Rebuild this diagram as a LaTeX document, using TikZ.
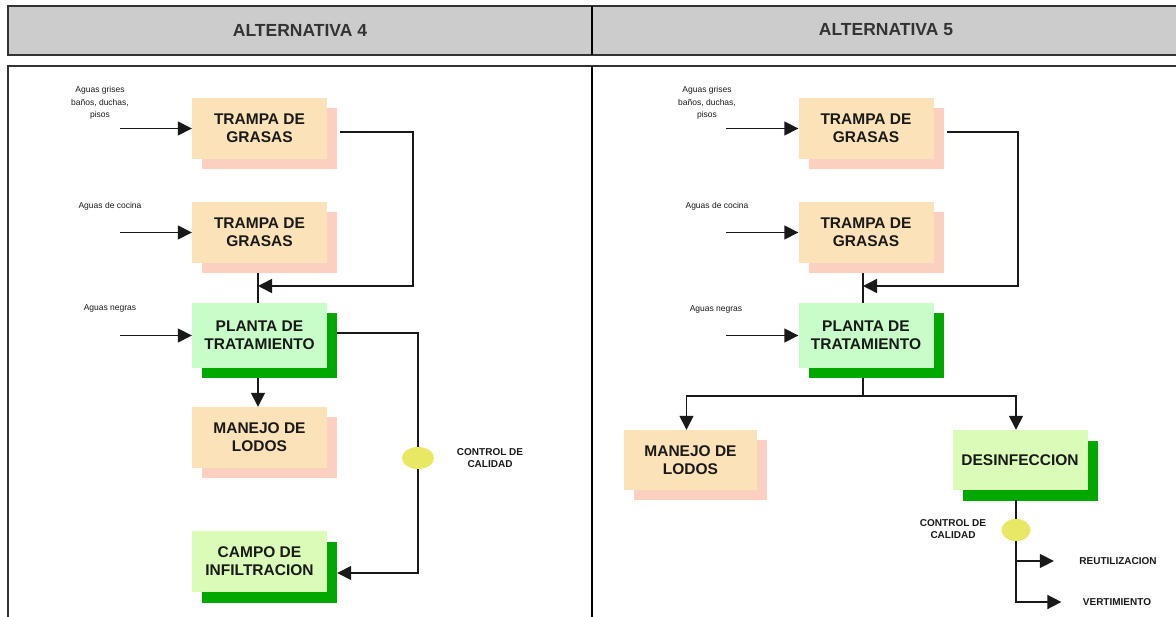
\documentclass[tikz,border=0pt]{standalone}
\usepackage{fontspec}
\setmainfont{Liberation Sans}
\usetikzlibrary{arrows.meta,shadows,shapes.geometric}

\definecolor{hdrgray}{HTML}{CCCCCC}
\definecolor{peach}{HTML}{FCE2B8}
\definecolor{peachshadow}{HTML}{FCD0C0}
\definecolor{mint}{HTML}{C8FCC8}
\definecolor{lime}{HTML}{DAFCB8}
\definecolor{darkgreen}{HTML}{00A800}
\definecolor{qcyellow}{HTML}{E8E864}

\tikzset{
  box/.style={minimum width=135pt, minimum height=61pt, inner sep=0pt, align=center,
    font=\fontsize{15.5}{18}\selectfont\bfseries, text=black!90},
  trap/.style={box, fill=peach,
    drop shadow={shadow xshift=10pt, shadow yshift=-10pt, fill=peachshadow, opacity=1}},
  plant/.style={box, fill=mint,
    drop shadow={shadow xshift=10pt, shadow yshift=-10pt, fill=darkgreen, opacity=1}},
  field/.style={box, fill=lime,
    drop shadow={shadow xshift=10pt, shadow yshift=-11pt, fill=darkgreen, opacity=1}},
  flow/.style={line width=1.5pt, draw=black!90},
  arrowflow/.style={flow, -{Triangle[length=14pt,width=14pt]}},
  note/.style={font=\fontsize{8.5}{12.5}\selectfont, align=center, text=black!90},
  tag/.style={font=\fontsize{10}{12}\selectfont\bfseries, align=center, text=black!90},
  hdr/.style={font=\fontsize{17.5}{18}\selectfont\bfseries, text=black!80},
  qc/.style={ellipse, fill=qcyellow, minimum width=32pt, minimum height=22pt, inner sep=0pt},
}

\begin{document}
\begin{tikzpicture}[x=1pt, y=-1pt]
\useasboundingbox (0,0) rectangle (1176,617);
\clip (0,0) rectangle (1176,617);

% header band and panel frame
\fill[hdrgray] (8,6) rectangle (1180,55);
\draw[line width=2pt, draw=black!80] (1180,6) -- (8,6) -- (8,55) -- (1180,55);
\draw[line width=2.5pt] (592,6) -- (592,55);
\draw[line width=2pt, draw=black!80] (1180,66) -- (8,66) -- (8,620);
\draw[line width=2.5pt] (592,66) -- (592,620);

\node[hdr] (h4) at (300,30) {ALTERNATIVA 4};
\node[hdr] (h5) at (886,30) {ALTERNATIVA 5};

% ---------- left panel ----------
\node[trap] (t1) at (259.5,128.5) {TRAMPA DE\\GRASAS};
\node[trap] (t2) at (259.5,232.5) {TRAMPA DE\\GRASAS};
\node[plant, minimum height=65pt] (p) at (259.5,335.5) {PLANTA DE\\TRATAMIENTO};
\node[trap] (m) at (259.5,437.5) {MANEJO DE\\LODOS};
\node[field] (c) at (259.5,561.5) {CAMPO DE\\INFILTRACION};

\node[note] (a1) at (100,103) {Aguas grises\\baños, duchas,\\pisos};
\node[note] (a2) at (110,206) {Aguas de cocina};
\node[note] (a3) at (110,308) {Aguas negras};

\coordinate (in1) at (120,128.5);
\coordinate (in2) at (120,232.5);
\coordinate (in3) at (120,335.5);
\draw[arrowflow] (in1) -- (t1.west);
\draw[arrowflow] (in2) -- (t2.west);
\draw[arrowflow] (in3) -- (p.west);

\coordinate (lc) at (413,286);
\coordinate (lj) at (258,286);
\draw[arrowflow] ([xshift=13pt,yshift=-3.5pt]t1.east) -| (lc) -- (lj);
\draw[flow] ([xshift=-1.5pt,yshift=-10pt]t2.south) -- ([xshift=-1.5pt]p.north);
\draw[arrowflow] ([xshift=-1.5pt,yshift=-10pt]p.south) -- ([xshift=-1.5pt]m.north);

\node[qc] (qc1) at (418,458) {};
\node[tag] (cq1) at (490,458) {CONTROL DE\\CALIDAD};
\draw[flow] ([xshift=10pt,yshift=2.5pt]p.east) -| (qc1.north);
\draw[arrowflow] (qc1.south) |- ([xshift=10pt,yshift=-11.5pt]c.east);

% ---------- right panel ----------
\node[trap] (rt1) at (866,128.5) {TRAMPA DE\\GRASAS};
\node[trap] (rt2) at (866,232.5) {TRAMPA DE\\GRASAS};
\node[plant, minimum height=65pt] (rp) at (866,335.5) {PLANTA DE\\TRATAMIENTO};
\node[trap, minimum width=133pt, minimum height=60pt] (rm) at (690.5,460) {MANEJO DE\\LODOS};
\node[field, minimum height=60pt] (rd) at (1020,460) {DESINFECCION};

\node[note] (b1) at (707,103) {Aguas grises\\baños, duchas,\\pisos};
\node[note] (b2) at (717,206) {Aguas de cocina};
\node[note] (b3) at (716,309) {Aguas negras};

\coordinate (rin1) at (726,128.5);
\coordinate (rin2) at (726,232.5);
\coordinate (rin3) at (726,335.5);
\draw[arrowflow] (rin1) -- (rt1.west);
\draw[arrowflow] (rin2) -- (rt2.west);
\draw[arrowflow] (rin3) -- (rp.west);

\coordinate (rc) at (1018,286);
\coordinate (rj) at (863,286);
\draw[arrowflow] ([xshift=13pt,yshift=-3.5pt]rt1.east) -| (rc) -- (rj);
\draw[flow] ([xshift=-3pt,yshift=-10pt]rt2.south) -- ([xshift=-3pt]rp.north);

\coordinate (rsplit) at (863,396);
\draw[flow] ([xshift=-3pt,yshift=-10pt]rp.south) -- (rsplit);
\draw[arrowflow] (rsplit) -| ([xshift=-4pt]rm.north);
\draw[arrowflow] (rsplit) -| ([xshift=-4pt]rd.north);

\node[qc, minimum width=29pt] (qc2) at (1016,530) {};
\node[tag] (cq2) at (953,529) {CONTROL DE\\CALIDAD};
\draw[flow] ([xshift=-4pt,yshift=-10pt]rd.south) -- (qc2.north);

\node[tag] (reuse) at (1118,561) {REUTILIZACION};
\node[tag] (dump) at (1117,602) {VERTIMIENTO};
\coordinate (rbr) at (1016,561);
\draw[arrowflow] (qc2.south) |- ([xshift=-18pt]dump.west);
\draw[arrowflow] (rbr) -- ([xshift=-22pt]reuse.west);
\end{tikzpicture}
\end{document}
